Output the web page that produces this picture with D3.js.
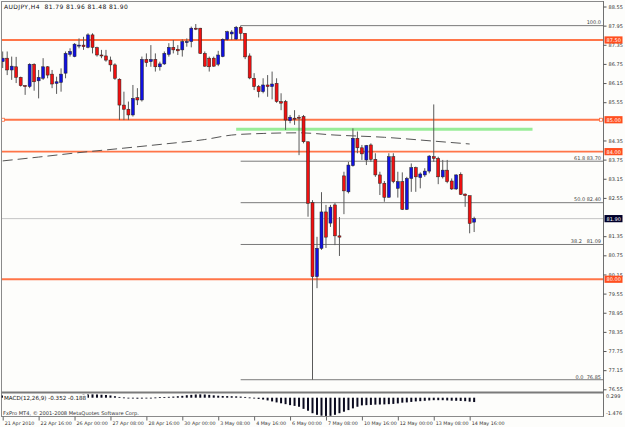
<!DOCTYPE html>
<html>
<head>
<meta charset="utf-8">
<script src="https://cdn.jsdelivr.net/npm/d3@7"></script>
<style>
  body { margin: 0; background: #fff; }
  svg { display: block; font-family: "DejaVu Sans", sans-serif; }
</style>
</head>
<body>
<div id="chart"></div>
<script>
const width = 625;
const height = 427;

// AUDJPY H4 candles, bar 0 = 21 Apr 2010 08:00
const opens = [86.82,86.93,86.56,86.66,86.33,86.07,86.04,86.74,86.22,86.30,
  86.66,86.43,86.14,86.17,86.46,87.05,86.98,87.32,87.34,87.27,
  87.66,87.26,87.03,87.00,86.87,86.72,86.27,85.46,85.33,85.15,
  85.69,85.62,86.89,86.82,86.89,86.66,86.75,87.05,87.27,87.21,
  87.19,87.42,87.45,87.87,87.87,87.08,86.93,86.93,86.74,86.98,
  87.52,87.69,87.53,87.90,87.71,87.00,86.30,86.04,85.88,86.09,
  86.04,86.14,85.57,85.57,84.97,85.05,85.08,85.10,84.31,82.40,
  80.08,80.97,82.11,81.76,82.33,81.36,83.24,82.74,83.56,84.42,
  84.12,83.74,84.21,83.76,83.27,83.01,82.57,83.84,82.85,83.06,
  82.19,83.16,83.50,83.19,83.27,83.39,83.84,83.79,83.21,83.42,
  83.08,82.83,83.29,82.67,82.62,81.79];
const highs = [87.14,87.14,86.98,86.97,86.35,86.09,86.77,86.77,86.56,86.93,
  86.68,86.56,86.35,86.61,87.14,87.24,87.40,87.55,87.60,87.71,
  87.71,87.29,87.19,87.19,86.98,86.77,86.30,85.88,85.57,86.09,
  85.99,86.98,87.08,87.34,87.08,86.82,87.14,87.40,87.50,87.34,
  87.52,87.55,87.92,88.00,87.88,87.14,86.98,86.98,87.16,87.55,
  87.79,87.81,87.94,87.95,87.72,87.08,86.46,86.09,86.30,86.40,
  86.51,86.30,85.83,85.62,85.15,85.30,85.15,85.15,84.31,82.48,
  81.33,82.73,82.33,82.33,82.39,81.95,83.37,83.68,84.73,84.63,
  84.21,84.21,84.26,83.95,83.37,83.08,83.95,83.95,83.37,83.35,
  83.21,83.63,83.53,83.35,83.48,83.89,85.48,83.84,83.74,83.74,
  83.16,83.29,83.35,82.69,82.62,81.96];
const lows = [86.62,86.40,86.25,86.15,86.04,85.78,85.99,85.91,85.67,86.25,
  86.30,85.99,85.81,85.88,86.30,86.98,86.96,87.24,87.19,87.24,
  87.08,86.98,86.93,86.82,86.51,86.25,84.99,84.99,84.99,85.10,
  85.46,85.57,86.66,86.66,86.51,86.54,86.72,86.98,87.08,87.03,
  86.98,87.29,87.27,87.81,87.06,86.66,86.51,86.66,86.68,86.96,
  87.48,87.50,87.50,87.50,86.90,86.27,85.93,85.70,85.83,85.72,
  85.64,85.53,85.30,84.68,84.89,84.84,83.89,84.26,81.96,76.85,
  79.72,80.92,80.98,81.64,81.07,80.73,82.04,82.69,83.53,83.95,
  83.74,83.58,83.68,83.21,82.64,82.43,82.56,83.01,82.56,82.17,
  82.17,82.74,82.74,82.85,83.21,83.32,83.68,82.98,83.16,83.01,
  82.80,82.80,82.64,82.27,81.44,81.48];
const closes = [86.93,86.56,86.68,86.33,86.07,86.05,86.74,86.19,86.33,86.66,
  86.40,86.12,86.19,86.43,87.08,87.14,87.37,87.34,87.29,87.66,
  87.27,87.03,87.00,86.87,86.72,86.30,85.46,85.33,85.15,85.67,
  85.62,86.89,86.79,86.89,86.66,86.75,87.08,87.27,87.19,87.16,
  87.45,87.45,87.87,87.84,87.08,86.68,86.66,86.68,87.03,87.52,
  87.76,87.75,87.90,87.71,86.97,86.31,86.04,85.88,86.09,86.04,
  86.12,85.57,85.52,84.99,85.08,85.03,85.05,84.31,82.38,80.08,
  80.97,82.11,81.32,82.26,81.36,81.32,82.77,83.58,84.42,84.12,
  83.93,84.19,83.76,83.27,83.01,82.57,83.84,83.06,83.06,82.19,
  83.16,83.50,83.21,83.30,83.39,83.86,83.79,83.21,83.42,83.06,
  82.83,83.27,82.66,82.62,81.75,81.90];

// MACD(12,26,9) histogram, one value per bar
const macd = [0.18,0.20,0.20,0.18,0.16,0.14,0.13,0.12,0.12,0.12,0.11,0.10,0.09,0.09,0.11,0.14,0.18,
  0.22,0.24,0.26,0.27,0.26,0.24,0.22,0.18,
  0.12,0.06,0.02,-0.03,-0.06,-0.08,-0.07,-0.04,-0.02,0.02,0.04,0.05,0.07,0.09,0.12,0.15,
  0.20,0.23,0.26,0.27,0.26,0.23,0.19,0.16,0.14,0.13,0.12,0.11,0.09,0.06,0.02,
  -0.05,-0.10,-0.15,-0.22,-0.30,-0.38,-0.45,-0.52,-0.60,-0.66,
  -0.73,-0.90,-1.05,-1.25,-1.38,-1.45,-1.47,-1.46,-1.38,-1.25,-1.13,-1.00,-0.86,-0.73,
  -0.62,-0.60,-0.58,-0.56,-0.55,-0.54,-0.52,-0.50,-0.46,-0.40,-0.38,-0.34,-0.30,-0.28,-0.25,
  -0.22,-0.20,-0.20,-0.20,-0.22,-0.24,-0.25,-0.26,-0.28,-0.32,-0.35];

// long moving average (dashed), read at a few bars
const maBars = [0, 8, 17, 27, 36, 45, 51, 58, 66, 74, 85, 96, 104];
const maValues = [83.71, 83.83, 83.97, 84.11, 84.24, 84.38, 84.52, 84.57, 84.59, 84.52, 84.45, 84.33, 84.24];

const hLevels = [87.50, 85.00, 84.00, 80.00];
const greenLevel = 84.70;
const greenFrom = 52, greenTo = 118;

const fibFrom = 53;
const fibPrices = [87.95, 83.70, 82.40, 81.09, 76.85];
const fibTexts = ["100.0", "61.8 83.70", "50.0 82.40", "38.2   81.09", "0.0  76.85"];

const lastPrice = 81.90;

// 84.95 and 81.95 sit under the level boxes, so they are not shown
const priceTicks = [88.55, 87.95, 87.35, 86.75, 86.15, 85.55, 84.35, 83.75, 83.15,
  82.55, 81.35, 80.75, 80.15, 79.55, 78.95, 78.35, 77.75, 77.15, 76.55];
const macdTicks = ["0.299", "-1.476"];
const macdTickValues = [0.299, -1.476];

const timeBars = [0, 8, 16, 24, 32, 40, 48, 56, 64, 72, 80, 88, 96, 104];
const timeLabels = ["21 Apr 2010", "22 Apr 16:00", "26 Apr 00:00", "27 Apr 08:00", "28 Apr 16:00",
  "30 Apr 00:00", "3 May 08:00", "4 May 16:00", "6 May 00:00", "7 May 08:00",
  "10 May 16:00", "12 May 00:00", "13 May 08:00", "14 May 16:00"];

const axisX = 603.5;
const fs = 5;
const bg = "#fdfdfb";

const svg = d3.select("#chart")
    .append("svg")
    .attr("width", width)
    .attr("height", height)
    .style("background-color", bg);

const x = d3.scaleLinear().domain([0, 100]).range([2.7, 451.7]);
const y = d3.scaleLinear().domain([76.55, 88.55]).range([389.3, 6.5]);
const yM = d3.scaleLinear().domain([-1.476, 0.299]).range([416, 394]);

const bars = d3.range(opens.length).map(i => ({
    i: i, o: opens[i], h: highs[i], l: lows[i], c: closes[i], m: macd[i]
}));

// clip the main window
svg.append("clipPath").attr("id", "main")
  .append("rect").attr("x", 2).attr("y", 2).attr("width", axisX - 2).attr("height", 390);

const main = svg.append("g").attr("clip-path", "url(#main)");

// current price line
main.append("line")
    .attr("x1", 2).attr("x2", axisX)
    .attr("y1", y(lastPrice)).attr("y2", y(lastPrice))
    .attr("stroke", "#c4c4c4").attr("stroke-width", 1);

// fibo lines
main.selectAll("line.fib")
    .data(fibPrices)
    .enter().append("line")
    .attr("class", "fib")
    .attr("x1", x(fibFrom)).attr("x2", axisX)
    .attr("y1", d => y(d)).attr("y2", d => y(d))
    .attr("stroke", "#7a7a7a").attr("stroke-width", 1);

main.selectAll("text.fib")
    .data(fibPrices)
    .enter().append("text")
    .attr("class", "fib")
    .attr("x", 601).attr("y", d => y(d) - 1.2)
    .attr("text-anchor", "end")
    .attr("font-size", fs)
    .attr("fill", "#444")
    .style("white-space", "pre")
    .text((d, i) => fibTexts[i]);

// orange horizontal levels
main.selectAll("line.level")
    .data(hLevels)
    .enter().append("line")
    .attr("class", "level")
    .attr("x1", 2).attr("x2", axisX)
    .attr("y1", d => y(d)).attr("y2", d => y(d))
    .attr("stroke", "#ff7548").attr("stroke-width", 1.8);

// green trend line
main.append("line")
    .attr("x1", x(greenFrom)).attr("x2", x(greenTo))
    .attr("y1", y(greenLevel)).attr("y2", y(greenLevel))
    .attr("stroke", "#98ec98").attr("stroke-width", 3);

// moving average
main.append("path")
    .datum(maBars.map((b, i) => [b, maValues[i]]))
    .attr("fill", "none")
    .attr("stroke", "#555")
    .attr("stroke-width", 1)
    .attr("stroke-dasharray", "10,5")
    .attr("d", d3.line().x(d => x(d[0])).y(d => y(d[1])).curve(d3.curveMonotoneX));

// candles
main.selectAll("line.wick")
    .data(bars)
    .enter().append("line")
    .attr("class", "wick")
    .attr("x1", d => x(d.i)).attr("x2", d => x(d.i))
    .attr("y1", d => y(d.h)).attr("y2", d => y(d.l))
    .attr("stroke", "#5a5a5a").attr("stroke-width", 1);

main.selectAll("rect.body")
    .data(bars)
    .enter().append("rect")
    .attr("class", "body")
    .attr("x", d => x(d.i) - 1.5)
    .attr("width", 3)
    .attr("y", d => y(Math.max(d.o, d.c)))
    .attr("height", d => Math.max(1, y(Math.min(d.o, d.c)) - y(Math.max(d.o, d.c))))
    .attr("fill", d => d.c >= d.o ? "#1010e0" : "#f01010")
    .attr("stroke", "#222").attr("stroke-width", 0.5);

// small markers on the 85.00 line
[3, 601].forEach(px => {
    svg.append("rect")
        .attr("x", px - 1.5).attr("y", y(85) - 1.5)
        .attr("width", 3).attr("height", 3)
        .attr("fill", "#fff").attr("stroke", "#ff6a3a").attr("stroke-width", 0.8);
});

// title
svg.append("text")
    .attr("x", 4).attr("y", 9)
    .attr("font-size", 6).attr("fill", "#111")
    .attr("letter-spacing", 0.4)
    .style("white-space", "pre")
    .text("AUDJPY,H4  81.79 81.96 81.48 81.90");

// frame
svg.append("line").attr("x1", 1.5).attr("x2", 1.5).attr("y1", 1).attr("y2", 417)
    .attr("stroke", "#8a8a8a");
svg.append("line").attr("x1", 1.5).attr("x2", axisX).attr("y1", 1.5).attr("y2", 1.5)
    .attr("stroke", "#8a8a8a");
svg.append("line").attr("x1", axisX).attr("x2", axisX).attr("y1", 1).attr("y2", 417)
    .attr("stroke", "#707070");
svg.append("line").attr("x1", 1.5).attr("x2", axisX).attr("y1", 392.5).attr("y2", 392.5)
    .attr("stroke", "#7a7a7a").attr("stroke-width", 2);
svg.append("line").attr("x1", 1.5).attr("x2", axisX).attr("y1", 416.5).attr("y2", 416.5)
    .attr("stroke", "#8a8a8a");

// price axis
const yAxis = svg.append("g")
    .attr("transform", `translate(${axisX},0)`)
    .call(d3.axisRight(y).tickValues(priceTicks).tickSize(3).tickPadding(2)
        .tickFormat(d3.format(".2f")));
yAxis.select(".domain").remove();
yAxis.selectAll("line").attr("stroke", "#555");
yAxis.selectAll("text").attr("font-size", fs).attr("fill", "#333")
    .attr("font-family", "DejaVu Sans");

// level labels on the axis
const levelLabels = hLevels.map(p => ({p: p, bg: "#ff4f1f"}))
    .concat([{p: lastPrice, bg: "#00002a"}]);
const lab = svg.selectAll("g.lab")
    .data(levelLabels)
    .enter().append("g")
    .attr("class", "lab")
    .attr("transform", d => `translate(${axisX + 1},${y(d.p)})`);
lab.append("rect")
    .attr("x", 0).attr("y", -3.6).attr("width", 18).attr("height", 7.2)
    .attr("fill", d => d.bg);
lab.append("text")
    .attr("x", 2).attr("y", 1.9)
    .attr("font-size", fs).attr("fill", "#fff")
    .text(d => d3.format(".2f")(d.p));

// MACD window
svg.selectAll("rect.macd")
    .data(bars)
    .enter().append("rect")
    .attr("class", "macd")
    .attr("x", d => x(d.i) - 1)
    .attr("width", 2)
    .attr("y", d => yM(Math.max(0, d.m)))
    .attr("height", d => Math.max(0.8, Math.abs(yM(d.m) - yM(0))))
    .attr("fill", "#0a0a1e");

// the indicator name covers the first histogram bars
const macdTitle = svg.append("text")
    .attr("x", 4).attr("y", 400)
    .attr("font-size", 5.6).attr("fill", "#111")
    .text("MACD(12,26,9) -0.352 -0.188");
const tb = macdTitle.node().getBBox();
svg.append("rect")
    .attr("x", tb.x - 1).attr("y", tb.y)
    .attr("width", tb.width + 2).attr("height", tb.height)
    .attr("fill", bg);
macdTitle.raise();

svg.append("text")
    .attr("x", 3).attr("y", 414.5)
    .attr("font-size", 5.1).attr("fill", "#333")
    .text("FxPro MT4, \u00a9 2001-2008 MetaQuotes Software Corp.");

svg.selectAll("text.macdtick")
    .data(macdTickValues)
    .enter().append("text")
    .attr("class", "macdtick")
    .attr("x", 606)
    .attr("y", (d, i) => i === 1 ? yM(d) - 1 : yM(d) + 4)
    .attr("font-size", fs).attr("fill", "#333")
    .text((d, i) => macdTicks[i]);

// time axis
const xAxis = svg.append("g")
    .attr("transform", "translate(0,416.5)")
    .call(d3.axisBottom(x).tickValues(timeBars).tickSize(4).tickPadding(2)
        .tickFormat((d, i) => timeLabels[i]));
xAxis.select(".domain").remove();
xAxis.selectAll("line").attr("stroke", "#666");
xAxis.selectAll("text")
    .attr("text-anchor", "start")
    .attr("dx", 1.5)
    .attr("dy", 0)
    .attr("y", 8.5)
    .attr("font-size", 4.8).attr("fill", "#333")
    .attr("font-family", "DejaVu Sans");
</script>
</body>
</html>
